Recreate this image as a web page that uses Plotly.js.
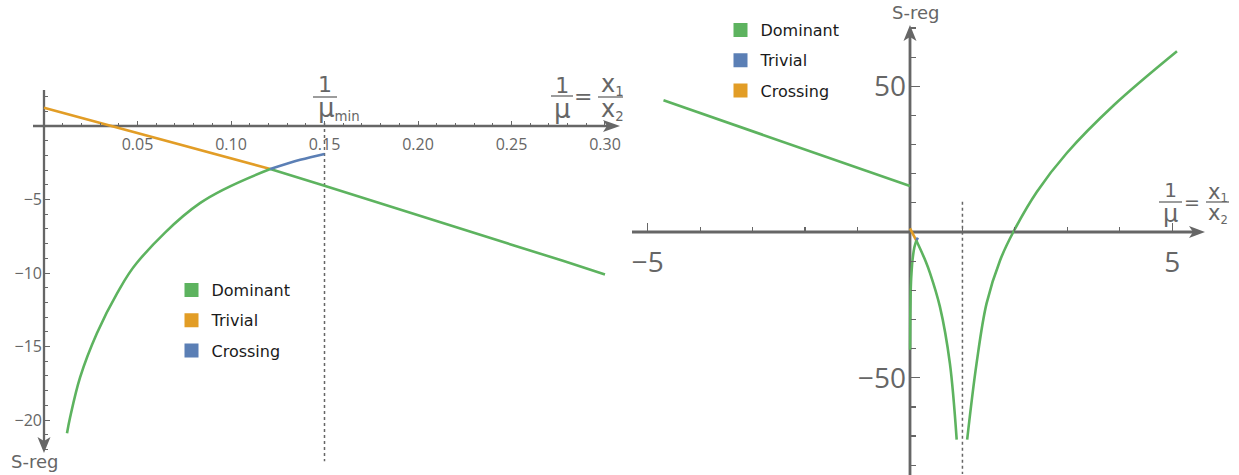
<!DOCTYPE html>
<html><head><meta charset="utf-8">
<script src="https://cdn.plot.ly/plotly-3.0.1.min.js"></script>
<style>html,body{margin:0;padding:0;background:#fff}#chart{width:1239px;height:475px}</style>
</head><body><div id="chart"></div>
<script>
// ---------- Left panel (zoom near the origin) ----------
const trivialX = [0, 0.121];
const trivialY = [1.24, -2.93];
const crossingX = [0.121, 0.137, 0.15];
const crossingY = [-2.93, -2.3, -1.9];
const dominantCurveX = [0.0123, 0.014, 0.0193, 0.0283, 0.039, 0.0497, 0.0834, 0.121];
const dominantCurveY = [-20.9, -19.8, -17.1, -14.1, -11.4, -9.3, -5.25, -2.93];
const dominantLineX = [0.121, 0.15, 0.2775, 0.30];
const dominantLineY = [-2.93, -4.07, -9.17, -10.1];
const muMinX = [0.15, 0.15];
const muMinY = [0.2, -22.8];
const leftXTicks = [0.05, 0.10, 0.15, 0.20, 0.25, 0.30];
const leftYTicks = [-20, -15, -10, -5];

// ---------- Right panel (wide view) ----------
const rDomLineX = [-4.7, 0];
const rDomLineY = [45.2, 15.75];
const rDomNearX = [0.002, 0.006, 0.0123, 0.0193, 0.0283, 0.039, 0.0497, 0.0834, 0.121];
const rDomNearY = [-40.4, -28, -20.9, -17.1, -14.1, -11.4, -9.3, -5.25, -2.93];
const rDomDownX = [0.121, 0.3, 0.38, 0.57, 0.76, 0.89];
const rDomDownY = [-2.93, -10.1, -14, -25.6, -45, -71.2];
const rDomUpX = [1.09, 1.27, 1.46, 1.72, 1.97, 2.42, 2.99, 3.88, 5.09];
const rDomUpY = [-71.2, -45, -24.5, -9.6, 0, 13.8, 27.1, 43.4, 62];
const rDashX = [1.0, 1.0];
const rDashY = [10.4, -83];
const rightXTicks = [-5, 5];
const rightYTicks = [-50, 50];

const legendLeftNames = ['Dominant', 'Trivial', 'Crossing'];
const legendRightNames = ['Dominant', 'Trivial', 'Crossing'];

const GREEN = '#5DB35F', ORANGE = '#E29D26', BLUE = '#5B7FB5', AX = '#666666';
const W = 1239, H = 475;
const px = p => p / W, py = p => 1 - p / H;

function line(x, y, color, xa, ya, shape) {
  return {x, y, type: 'scatter', mode: 'lines', xaxis: xa, yaxis: ya,
    line: {color, width: 2.6, shape: shape || 'linear', smoothing: 1},
    showlegend: false, hoverinfo: 'skip'};
}
function legendItem(name, color, leg, grp) {
  return {x: [null], y: [null], type: 'scatter', mode: 'markers', name,
    marker: {symbol: 'square', size: 14, color}, legend: leg, legendgroup: grp,
    showlegend: true, xaxis: leg === 'legend' ? 'x' : 'x2', yaxis: leg === 'legend' ? 'y' : 'y2'};
}
const dashStyle = {color: AX, width: 1.5, dash: '3px,3px'};
function dashed(x, y, xa, ya) { const t = line(x, y, AX, xa, ya); t.line = dashStyle; return t; }

const traces = [
  dashed(muMinX, muMinY, 'x', 'y'),
  line(trivialX, trivialY, ORANGE, 'x', 'y'),
  line(dominantCurveX, dominantCurveY, GREEN, 'x', 'y', 'spline'),
  line(dominantLineX, dominantLineY, GREEN, 'x', 'y'),
  line(crossingX, crossingY, BLUE, 'x', 'y', 'spline'),

  dashed(rDashX, rDashY, 'x2', 'y2'),
  line(rDomLineX, rDomLineY, GREEN, 'x2', 'y2'),
  line(trivialX, trivialY, ORANGE, 'x2', 'y2'),
  line(crossingX, crossingY, BLUE, 'x2', 'y2'),
  line(rDomNearX, rDomNearY, GREEN, 'x2', 'y2', 'spline'),
  line(rDomDownX, rDomDownY, GREEN, 'x2', 'y2', 'spline'),
  line(rDomUpX, rDomUpY, GREEN, 'x2', 'y2', 'spline'),

  legendItem(legendLeftNames[0], GREEN, 'legend', 'l1'),
  legendItem(legendLeftNames[1], ORANGE, 'legend', 'l2'),
  legendItem(legendLeftNames[2], BLUE, 'legend', 'l3'),
  legendItem(legendRightNames[0], GREEN, 'legend2', 'r1'),
  legendItem(legendRightNames[1], BLUE, 'legend2', 'r2'),
  legendItem(legendRightNames[2], ORANGE, 'legend2', 'r3'),
];

function seq(a, b, step) { const out = []; for (let v = a; v <= b + 1e-9; v += step) out.push(+v.toFixed(4)); return out; }
const leftXMinor = seq(0.01, 0.30, 0.01).filter(v => Math.abs(v * 20 - Math.round(v * 20)) > 1e-6);
const leftYMinor = seq(-22, 2, 1).filter(v => v % 5 !== 0);
const rightXMinor = seq(-5, 5, 1).filter(v => v !== 0 && Math.abs(v) !== 5);
const rightYMinor = seq(-80, 70, 10).filter(v => v !== 0 && Math.abs(v) !== 50);

const tickFontL = {family: 'Open Sans', size: 16, color: AX};
const tickFontR = {family: 'Open Sans', size: 28, color: AX};
const commonAxis = {showgrid: false, zeroline: false, showline: false, anchor: 'free', fixedrange: true};

function txt(text, x, y, size, extra) {
  return Object.assign({text, x: px(x), y: py(y), xref: 'paper', yref: 'paper', showarrow: false,
    xanchor: 'center', yanchor: 'middle', font: {family: 'DejaVu Sans', size, color: AX}}, extra || {});
}
function seg(x0, y0, x1, y1, w) {
  return {type: 'line', xref: 'paper', yref: 'paper', x0: px(x0), y0: py(y0), x1: px(x1), y1: py(y1),
    line: {color: AX, width: w}, layer: 'below'};
}
function head(tx, ty, dx, dy, len, half, notch) {
  const bx = tx - dx * len, by = ty - dy * len, nx = tx - dx * (len - notch), ny = ty - dy * (len - notch);
  const qx = -dy, qy = dx;
  const pts = [[tx, ty], [bx + qx * half, by + qy * half], [nx, ny], [bx - qx * half, by - qy * half]];
  const path = 'M' + pts.map(p => px(p[0]).toFixed(5) + ',' + py(p[1]).toFixed(5)).join('L') + 'Z';
  return {type: 'path', xref: 'paper', yref: 'paper', path, fillcolor: AX, line: {width: 0}, layer: 'below'};
}

const layout = {
  width: W, height: H, margin: {l: 0, r: 0, t: 0, b: 0},
  paper_bgcolor: '#fff', plot_bgcolor: 'rgba(0,0,0,0)', showlegend: true,
  xaxis: Object.assign({}, commonAxis, {domain: [0, 0.505], range: [-0.02353, 0.31107], position: py(126),
    tickmode: 'array', tickvals: leftXTicks, tickformat: '.2f', ticks: 'inside', ticklen: 5, tickwidth: 1, tickcolor: AX,
    tickfont: tickFontL, ticklabelstandoff: 7,
    minor: {tickmode: 'array', tickvals: leftXMinor, ticks: 'inside', ticklen: 3, tickwidth: 1, tickcolor: AX}}),
  yaxis: Object.assign({}, commonAxis, {domain: [0, 1], range: [-23.741, 8.571], position: px(44),
    tickmode: 'array', tickvals: leftYTicks, ticks: 'inside', ticklen: 5, tickwidth: 1, tickcolor: AX,
    tickfont: tickFontL, ticklabelstandoff: 2,
    minor: {tickmode: 'array', tickvals: leftYMinor, ticks: 'inside', ticklen: 3, tickwidth: 1, tickcolor: AX}}),
  xaxis2: Object.assign({}, commonAxis, {domain: [0.505, 1], range: [-5.4204, 6.2727], position: py(232),
    tickmode: 'array', tickvals: rightXTicks, ticks: 'inside', ticklen: 9, tickwidth: 1.2, tickcolor: AX,
    tickfont: tickFontR, ticklabelstandoff: 11,
    minor: {tickmode: 'array', tickvals: rightXMinor, ticks: 'inside', ticklen: 5, tickwidth: 1.2, tickcolor: AX}}),
  yaxis2: Object.assign({}, commonAxis, {domain: [0, 1], range: [-83.36, 79.59], position: px(910),
    tickmode: 'array', tickvals: rightYTicks, ticks: 'inside', ticklen: 9, tickwidth: 1.2, tickcolor: AX,
    tickfont: tickFontR, ticklabelstandoff: 4,
    minor: {tickmode: 'array', tickvals: rightYMinor, ticks: 'inside', ticklen: 5, tickwidth: 1.2, tickcolor: AX}}),
  legend: {x: px(171.5), y: py(273), xanchor: 'left', yanchor: 'top', bgcolor: 'rgba(0,0,0,0)',
    font: {family: 'DejaVu Sans', size: 16, color: '#1a1a1a'}, tracegroupgap: 6.5, traceorder: 'grouped'},
  legend2: {x: px(720.5), y: py(13), xanchor: 'left', yanchor: 'top', bgcolor: 'rgba(0,0,0,0)',
    font: {family: 'DejaVu Sans', size: 16, color: '#1a1a1a'}, tracegroupgap: 6.5, traceorder: 'grouped'},
  annotations: [
    // left axis label: 1/mu = x1/x2
    txt('<span style="font-size:22px">1</span><br><span style="font-size:26px">μ</span>', 562, 98, 19),
    txt('=', 583, 96, 22),
    txt('<span style="font-size:24px">x</span><sub>1</sub><br><span style="font-size:24px">x</span><sub>2</sub>', 612, 96.5, 19),
    // 1/mu_min
    txt('<span style="font-size:22px">1</span><br><span style="font-size:26px">μ</span><sub>min</sub>', 316, 98, 19, {xanchor: 'left', align: 'left'}),
    txt('S-reg', 34, 461, 18),
    // right axis label
    txt('<span style="font-size:20px">1</span><br><span style="font-size:24px">μ</span>', 1170, 202.5, 19),
    txt('=', 1192, 201.5, 19),
    txt('<span style="font-size:21px">x</span><sub>1</sub><br><span style="font-size:21px">x</span><sub>2</sub>', 1218, 203.5, 16.5),
    txt('S-reg', 915, 12, 18),
  ],
  shapes: [
    // fraction bars
    seg(551, 96, 573, 96, 1.3), seg(598, 97, 623, 97, 1.3), seg(313, 97, 337, 97, 1.3),
    seg(1159, 202, 1182, 202, 1.3), seg(1206, 202, 1229, 202, 1.3),
    // axes with arrowheads
    seg(33, 126, 607, 126, 2.3), head(620, 126, 1, 0, 17, 6, 4),
    seg(44, 90, 44, 441, 2.3), head(44, 453, 0, 1, 16, 6.5, 4),
    seg(632, 232, 1193, 232, 2.8), head(1205, 232, 1, 0, 16, 6, 4),
    seg(910, 475, 910, 37, 2.8), head(910, 25, 0, -1, 16, 6.5, 4),
  ],
};

Plotly.newPlot('chart', traces, layout, {staticPlot: true, displayModeBar: false});
</script></body></html>
